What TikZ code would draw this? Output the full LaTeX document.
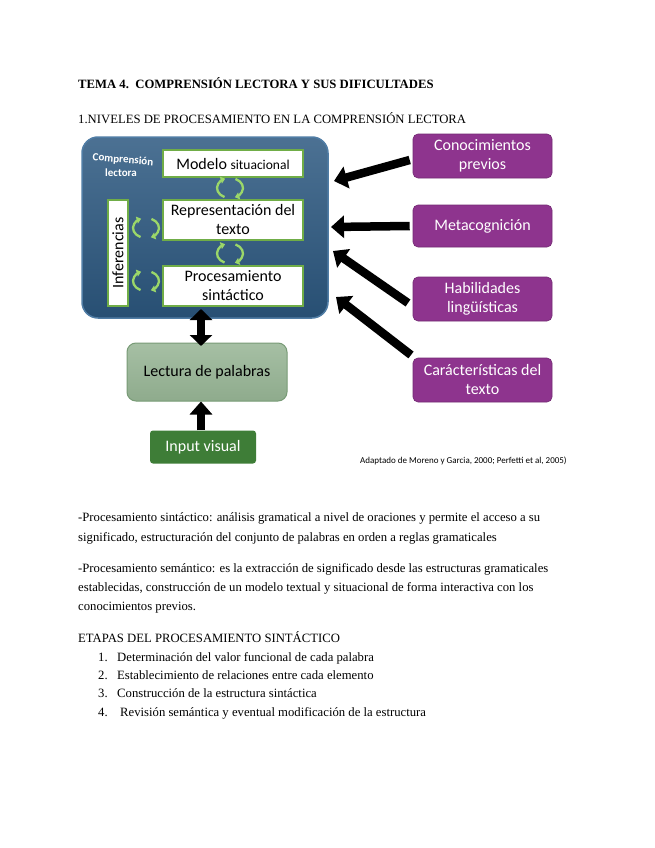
\documentclass[tikz,border=0pt]{standalone}
\usepackage{fontspec}
\setmainfont{Liberation Serif}
\newfontfamily\dfont{Carlito}
\usetikzlibrary{arrows.meta,positioning}
\definecolor{bluebox}{RGB}{44,88,128}
\definecolor{blueedge}{RGB}{80,125,165}
\definecolor{greenedge}{RGB}{112,173,71}
\definecolor{cyclegreen}{RGB}{155,215,105}
\definecolor{purplebox}{RGB}{142,52,142}
\definecolor{lectura}{RGB}{150,180,148}
\definecolor{lecturaedge}{RGB}{120,155,118}
\definecolor{inputgreen}{RGB}{62,125,55}
\tikzset{
  body/.style={anchor=base west, inner sep=0pt, font=\fontsize{12.7}{15}\selectfont},
  whitebox/.style={draw=greenedge, line width=1.6pt, fill=white, inner sep=0pt, font=\dfont\fontsize{16}{17}\selectfont, align=center},
  purplebox/.style={fill=purplebox, draw=purplebox!80!black, line width=0.6pt, rounded corners=5pt, inner sep=0pt, minimum width=139pt, text=white, font=\dfont\fontsize{16}{19}\selectfont, align=center},
  bigarrow/.style={line width=8.5pt, -{Triangle[width=22pt,length=13pt]}},
  dblarrow/.style={line width=8pt, {Triangle[width=22pt,length=11pt]}-{Triangle[width=22pt,length=11pt]}},
  cyc/.style={draw=cyclegreen, line width=2.3pt, -{Triangle[width=7pt,length=4.5pt]}}
}
\newcommand{\cyclemark}[1]{%
  \draw[cyc] ([shift={(245:13pt and 10pt)}]#1) arc[start angle=245, end angle=112, x radius=13pt, y radius=10pt];%
  \draw[cyc] ([shift={(65:13pt and 10pt)}]#1) arc[start angle=65, end angle=-68, x radius=13pt, y radius=10pt];%
}
\begin{document}
\begin{tikzpicture}[x=1pt,y=-1pt]
\useasboundingbox (0,0) rectangle (655,848);
\fill[white] (0,0) rectangle (655,848);

% headings
\node[body, font=\bfseries\fontsize{12.7}{15}\selectfont] (title) at (78,89) {TEMA 4.\ \ COMPRENSIÓN LECTORA Y SUS DIFICULTADES};
\node[body] (sub) at (78,124) {1.NIVELES DE PROCESAMIENTO EN LA COMPRENSIÓN LECTORA};

% big blue box
\node[draw=blueedge, line width=1.5pt, top color=bluebox!85!white, bottom color=bluebox!90!black, rounded corners=16pt, minimum width=246pt, minimum height=181pt, inner sep=0pt] (comp) at (205,227.5) {};
\node[text=white, font=\dfont\bfseries\fontsize{11}{12}\selectfont, rotate=-5, inner sep=0pt] (comp1) at (123,160) {Comprensión};
\node[text=white, font=\dfont\bfseries\fontsize{11}{12}\selectfont, inner sep=0pt] (comp2) at (121,173) {lectora};

\node[whitebox, minimum width=140pt, minimum height=27pt] (modelo) at (233,163.5) {Modelo {\fontsize{13.5}{15}\selectfont situacional}};
\node[whitebox, minimum width=140pt, minimum height=40pt, font=\dfont\fontsize{16}{19}\selectfont] (repr) at (233,220) {Representación del\\texto};
\node[whitebox, minimum width=140pt, minimum height=40pt, font=\dfont\fontsize{16}{19}\selectfont] (proc) at (233,286) {Procesamiento\\sintáctico};
\node[whitebox, minimum width=106pt, minimum height=20pt, rotate=90] (infer) at (118,253) {Inferencias};

\coordinate (c1) at (230,188);
\coordinate (c2) at (230,253.5);
\coordinate (c3) at (146,228);
\coordinate (c4) at (146,281);
\cyclemark{c1}
\cyclemark{c2}
\cyclemark{c3}
\cyclemark{c4}

% lower boxes
\node[draw=lecturaedge, line width=1pt, top color=lectura!85!white, bottom color=lectura!95!black, rounded corners=9pt, minimum width=160pt, minimum height=58pt, inner sep=0pt, font=\dfont\fontsize{16}{19}\selectfont] (lect) at (207,372) {Lectura de palabras};
\node[fill=inputgreen, minimum width=106pt, minimum height=33pt, inner sep=0pt, rounded corners=3pt, text=white, font=\dfont\fontsize{16}{19}\selectfont] (input) at (203,447) {Input visual};

\draw[dblarrow] (201,309) -- (201,346);
\draw[bigarrow] (input.north -| 201,0) -- (lect.south -| 201,0);

% purple boxes
\node[purplebox, minimum height=44pt] (conoc) at (482.5,156) {Conocimientos\\previos};
\node[purplebox, minimum height=42pt] (meta) at (482.5,226) {Metacognición};
\node[purplebox, minimum height=44pt] (habil) at (482.5,299) {Habilidades\\lingüísticas};
\node[purplebox, minimum height=44pt] (caract) at (482.5,380) {Carácterísticas del\\texto};

\coordinate (a1) at (334,181);
\coordinate (a2) at (331,227);
\coordinate (a3) at (333,251);
\coordinate (a4) at (336,297);
\draw[bigarrow] ([yshift=-4pt]conoc.west) ++(-3,0) -- (a1);
\draw[bigarrow] (meta.west) ++(-3,0) -- (a2);
\draw[bigarrow] (408,303) -- (a3);
\draw[bigarrow] (411,355) -- (a4);

\node[anchor=base west, inner sep=0pt, font=\dfont\fontsize{9}{10}\selectfont] (credit) at (360,463) {Adaptado de Moreno y Garcia, 2000; Perfetti et al, 2005)};

% body text
\node[body] (l1) at (78,521) {-Procesamiento sintáctico: análisis gramatical a nivel de oraciones y permite el acceso a su};
\node[body] (l2) at (78,541) {significado, estructuración del conjunto de palabras en orden a reglas gramaticales};
\node[body] (l3) at (78,572) {-Procesamiento semántico: es la extracción de significado desde las estructuras gramaticales};
\node[body] (l4) at (78,591) {establecidas, construcción de un modelo textual y situacional de forma interactiva con los};
\node[body] (l5) at (78,610) {conocimientos previos.};
\node[body] (et) at (78,642) {ETAPAS DEL PROCESAMIENTO SINTÁCTICO};
\node[body] (n1) at (98,661) {1.};
\node[body] (n2) at (98,679) {2.};
\node[body] (n3) at (98,697) {3.};
\node[body] (n4) at (98,716) {4.};
\node[body] (i1) at (117,661) {Determinación del valor funcional de cada palabra};
\node[body] (i2) at (117,679) {Establecimiento de relaciones entre cada elemento};
\node[body] (i3) at (117,697) {Construcción de la estructura sintáctica};
\node[body] (i4) at (120,716) {Revisión semántica y eventual modificación de la estructura};
\end{tikzpicture}
\end{document}
